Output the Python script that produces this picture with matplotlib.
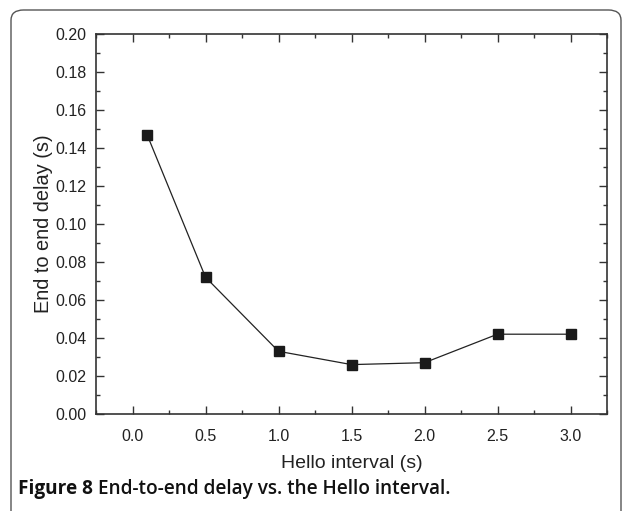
import matplotlib
matplotlib.use("Agg")
import matplotlib.pyplot as plt
from matplotlib.patches import FancyBboxPatch
from matplotlib.ticker import MultipleLocator

hello_interval = [0.1, 0.5, 1.0, 1.5, 2.0, 2.5, 3.0]
delay = [0.147, 0.072, 0.033, 0.026, 0.027, 0.042, 0.042]

plt.rcParams["font.family"] = ["Liberation Sans", "DejaVu Sans"]

W, H = 624, 511
fig = plt.figure(figsize=(W / 100, H / 100), dpi=100)

# rounded frame around the figure
frame = FancyBboxPatch((11 / W, -0.2), (610 / W), 1 - 10 / H + 0.2,
                       boxstyle="round,pad=0,rounding_size=0.02",
                       transform=fig.transFigure, fill=False,
                       edgecolor="#555555", linewidth=1.0)
fig.patches.append(frame)

ax = fig.add_axes([96 / W, 1 - 414 / H, (607 - 96) / W, (414 - 34) / H])
ax.plot(hello_interval, delay, color="#222222", linewidth=0.9,
        marker="s", markersize=6.5, markerfacecolor="#1a1a1a",
        markeredgecolor="#1a1a1a")

ax.set_xlim(-0.25, 3.25)
ax.set_ylim(0, 0.2)
ax.xaxis.set_major_locator(MultipleLocator(0.5))
ax.xaxis.set_minor_locator(MultipleLocator(0.25))
ax.yaxis.set_major_locator(MultipleLocator(0.02))
ax.yaxis.set_minor_locator(MultipleLocator(0.01))
ax.xaxis.set_major_formatter(lambda v, p: f"{v:.1f}")
ax.yaxis.set_major_formatter(lambda v, p: f"{v:.2f}")

ax.tick_params(which="both", direction="in", top=True, right=True,
               color="#333333", width=1.0, labelsize=11.5, labelcolor="#222222")
ax.tick_params(which="major", length=6)
ax.tick_params(axis="x", which="major", pad=11)
ax.tick_params(axis="y", which="major", pad=7)
ax.tick_params(which="minor", length=3)
for s in ax.spines.values():
    s.set_linewidth(1.2)
    s.set_color("#333333")

ax.set_xlabel("Hello interval (s)", fontsize=14, color="#222222", labelpad=8)
ax.set_ylabel("End to end delay (s)", fontsize=14.4, color="#222222")
ax.yaxis.set_label_coords(-0.085, 0.5)

cap_y = 1 - 489 / H
t1 = fig.text(18 / W, cap_y, "Figure 8", fontsize=13.7, fontweight="bold",
              family="Open Sans", va="center", ha="left", color="#111111")
fig.canvas.draw()
bb = t1.get_window_extent()
fig.text((bb.x1 + 5) / W, cap_y, "End-to-end delay vs. the Hello interval.",
         fontsize=13.7, fontweight="semibold", family="Open Sans",
         va="center", ha="left", color="#111111")

fig.savefig("out.png", dpi=100)
